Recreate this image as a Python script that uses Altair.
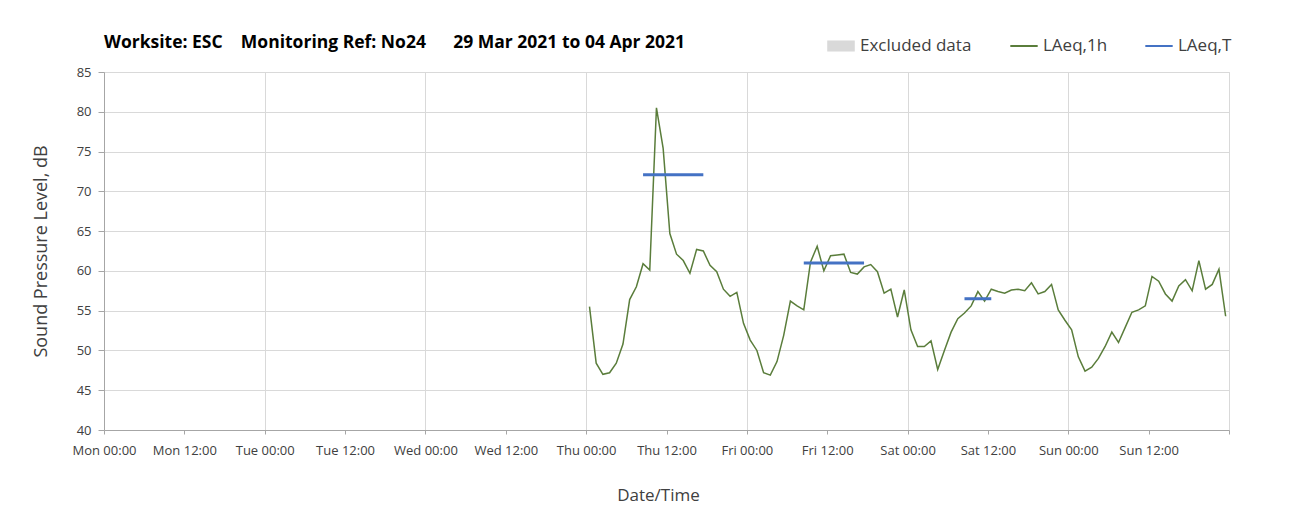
import altair as alt
import pandas as pd

# LAeq,1h hourly values, Thu 01 Apr 2021 00:30 .. Sun 04 Apr 2021 23:30
thu = [55.5, 48.4, 47.0, 47.2, 48.4, 50.8, 56.4, 58.0, 60.9, 60.1, 80.5, 75.4,
       64.7, 62.1, 61.3, 59.7, 62.7, 62.5, 60.7, 59.9, 57.7, 56.8, 57.3, 53.4]
fri = [51.3, 50.0, 47.2, 46.9, 48.6, 51.9, 56.2, 55.6, 55.1, 61.1, 63.1, 60.0,
       61.9, 62.0, 62.1, 59.8, 59.6, 60.5, 60.8, 59.9, 57.2, 57.7, 54.2, 57.6]
sat = [52.6, 50.5, 50.5, 51.2, 47.6, 50.0, 52.3, 54.0, 54.7, 55.6, 57.4, 56.2,
       57.7, 57.4, 57.2, 57.6, 57.7, 57.5, 58.5, 57.1, 57.4, 58.3, 55.1, 53.8]
sun = [52.6, 49.2, 47.4, 47.9, 49.0, 50.5, 52.3, 51.0, 52.9, 54.8, 55.1, 55.6,
       59.3, 58.7, 57.1, 56.2, 58.1, 58.9, 57.5, 61.3, 57.7, 58.3, 60.2, 54.3]
laeq_1h = thu + fri + sat + sun
times_1h = pd.date_range("2021-04-01 00:30", periods=len(laeq_1h), freq="h")

# LAeq,T periods
t_start = ["2021-04-01T08:30:00", "2021-04-02T08:30:00", "2021-04-03T08:30:00"]
t_end = ["2021-04-01T17:30:00", "2021-04-02T17:30:00", "2021-04-03T12:30:00"]
t_value = [72.1, 61.0, 56.5]

y_ticks = [40, 45, 50, 55, 60, 65, 70, 75, 80, 85]
days = [(3, 29), (3, 30), (3, 31), (4, 1), (4, 2), (4, 3), (4, 4), (4, 5)]

FONT = "Open Sans"
TXT = "#404040"

df1h = pd.DataFrame({"time": times_1h, "value": laeq_1h, "series": "LAeq,1h"})
dfT = pd.DataFrame({"start": t_start, "end": t_end, "value": t_value, "series": "LAeq,T"})
dfEx = pd.DataFrame({"start": pd.Series([], dtype="str"), "end": pd.Series([], dtype="str"),
                     "series": pd.Series([], dtype="str")})

x_ticks = []
for i, (m, d) in enumerate(days):
    x_ticks.append(alt.DateTime(year=2021, month=m, date=d, hours=0))
    if i < len(days) - 1:
        x_ticks.append(alt.DateTime(year=2021, month=m, date=d, hours=12))

x_scale = alt.Scale(domain=[alt.DateTime(year=2021, month=3, date=29, hours=0),
                            alt.DateTime(year=2021, month=4, date=5, hours=0)])
y_scale = alt.Scale(domain=[40, 85], nice=False)

x_axis = alt.Axis(values=x_ticks, format="%a %H:%M", labelAngle=0, title="Date/Time",
                  labelExpr="datum.value >= time(datetime(2021, 3, 5)) ? '' : datum.label",
                  labelFontSize=13, labelColor=TXT, labelFont=FONT, labelPadding=10,
                  labelFlush=False, labelOverlap=False,
                  tickSize=4, tickColor="#a6a6a6", domainColor="#a6a6a6",
                  gridColor="#d9d9d9",
                  gridOpacity={"condition": {"test": "hours(datum.value) == 12", "value": 0}, "value": 1},
                  titleFontSize=17, titleFontWeight="normal", titleColor=TXT, titleFont=FONT,
                  titlePadding=30, titleX=554)
y_axis = alt.Axis(values=y_ticks, title="Sound Pressure Level, dB",
                  labelFontSize=13, labelColor=TXT, labelFont=FONT, labelPadding=7,
                  tickSize=6, tickColor="#a6a6a6", domainColor="#a6a6a6",
                  gridColor="#d9d9d9",
                  titleFontSize=18, titleFontWeight="normal", titleColor=TXT, titleFont=FONT,
                  titlePadding=26)

stroke_scale = alt.Scale(domain=["LAeq,1h", "LAeq,T"], range=["#5a7d3b", "#4472c4"])
stroke_legend = alt.Legend(title=None, orient="none", legendX=905, legendY=-41,
                           direction="horizontal", symbolType="stroke", symbolSize=750,
                           symbolStrokeWidth=2, labelFontSize=17, labelFont=FONT,
                           labelColor=TXT, columnPadding=33, labelOffset=4)

excl = alt.Chart(dfEx).mark_rect(opacity=0.6).encode(
    x=alt.X("start:T", scale=x_scale, axis=x_axis),
    x2="end:T",
    fill=alt.Fill("series:N",
                  scale=alt.Scale(domain=["Excluded data"], range=["#d9d9d9"]),
                  legend=alt.Legend(title=None, orient="none", legendX=722, legendY=-41,
                                    symbolType="M-1,-0.4H1V0.4H-1Z", symbolSize=760,
                                    symbolOpacity=1, labelFontSize=17, labelFont=FONT,
                                    labelColor=TXT, labelOffset=4)),
)

line = alt.Chart(df1h).mark_line(strokeWidth=1.5).encode(
    x=alt.X("time:T", scale=x_scale, axis=x_axis),
    y=alt.Y("value:Q", scale=y_scale, axis=y_axis),
    stroke=alt.Stroke("series:N", scale=stroke_scale, legend=stroke_legend),
)

rule = alt.Chart(dfT).mark_rule(strokeWidth=3).encode(
    x=alt.X("start:T", scale=x_scale, axis=x_axis),
    x2="end:T",
    y=alt.Y("value:Q", scale=y_scale, axis=y_axis),
    stroke=alt.Stroke("series:N", scale=stroke_scale, legend=stroke_legend),
)

title_text = ("Worksite: ESC\u00a0\u00a0\u00a0\u00a0Monitoring Ref: No24"
              "\u00a0\u00a0\u00a0\u00a0\u00a0\u00a029 Mar 2021 to 04 Apr 2021")

chart = alt.layer(excl, line, rule).properties(
    width=1125, height=358,
    autosize=alt.AutoSizeParams(type="none"),
    padding={"left": 96, "top": 64, "right": 56, "bottom": 88},
    title=alt.TitleParams(title_text, anchor="start", frame="group", fontSize=17.5,
                          fontWeight="bold", font=FONT, color="#000000", offset=18, dy=38),
).configure_view(stroke="#a6a6a6", strokeWidth=1).configure(background="white")

chart.save("out.html", embed_options={"renderer": "svg", "actions": False})
